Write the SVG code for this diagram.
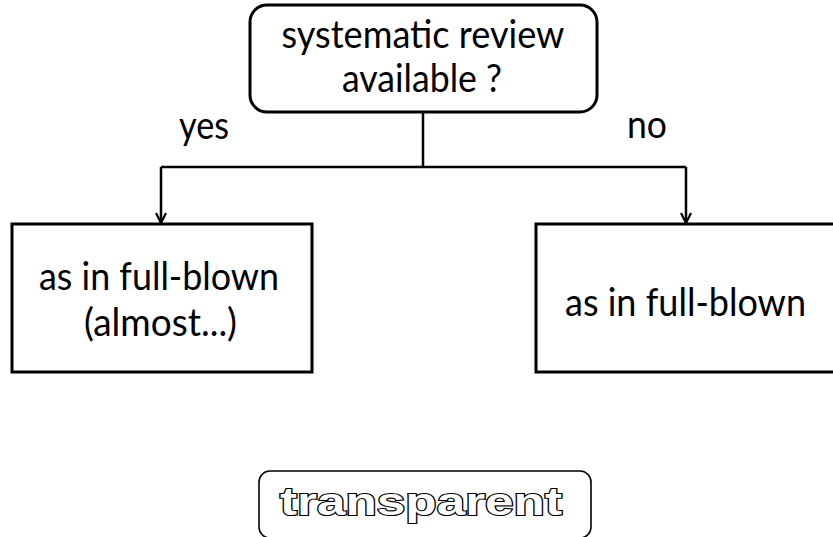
<svg xmlns="http://www.w3.org/2000/svg" width="833" height="537" viewBox="0 0 833 537">
<style>
.box{fill:#fff;stroke:#000;stroke-width:3}
.t{font-family:Lato,"Open Sans","Liberation Sans",sans-serif;font-size:39px;fill:#000}
.edge{fill:none;stroke:#000;stroke-width:2.5}
.tr{font-family:"Liberation Sans",Arial,sans-serif;font-weight:bold;font-size:39px;fill:#fff;stroke:#000;stroke-width:2.2;paint-order:stroke}
</style>
<defs>
<marker id="arr" viewBox="0 0 12 12" refX="11" refY="6" markerWidth="12" markerHeight="12" markerUnits="userSpaceOnUse" orient="auto">
<path d="M1,1 L11,6 L1,11" fill="none" stroke="#000" stroke-width="2.2"/>
</marker>
</defs>
<rect width="833" height="537" fill="#fff"/>
<g id="connectors">
<path class="edge" d="M423,112 V167"/>
<path class="edge" d="M161,167 H686"/>
<path class="edge" d="M161,167 V223" marker-end="url(#arr)"/>
<path class="edge" d="M686,167 V223" marker-end="url(#arr)"/>
<text class="t" x="179" y="139" textLength="50" lengthAdjust="spacingAndGlyphs">yes</text>
<text class="t" x="627" y="138" textLength="40" lengthAdjust="spacingAndGlyphs">no</text>
</g>
<g id="question">
<rect class="box" x="250" y="5" width="347" height="107" rx="17"/>
<text class="t" x="281.5" y="48" textLength="283" lengthAdjust="spacingAndGlyphs">systematic review</text>
<text class="t" x="342" y="92" textLength="160" lengthAdjust="spacingAndGlyphs">available ?</text>
</g>
<g id="yes-node">
<rect class="box" x="12" y="224" width="300" height="148"/>
<text class="t" x="39" y="290" textLength="240" lengthAdjust="spacingAndGlyphs">as in full-blown</text>
<text class="t" x="84" y="336" textLength="153" lengthAdjust="spacingAndGlyphs">(almost...)</text>
</g>
<g id="no-node">
<rect class="box" x="536" y="224" width="320" height="148"/>
<text class="t" x="565" y="316" textLength="241" lengthAdjust="spacingAndGlyphs">as in full-blown</text>
</g>
<g id="transparent">
<rect x="259" y="471" width="332" height="67" rx="11" fill="#fff" stroke="#000" stroke-width="1.6"/>
<text class="tr" x="280" y="515" textLength="282" lengthAdjust="spacingAndGlyphs">transparent</text>
</g>
</svg>
